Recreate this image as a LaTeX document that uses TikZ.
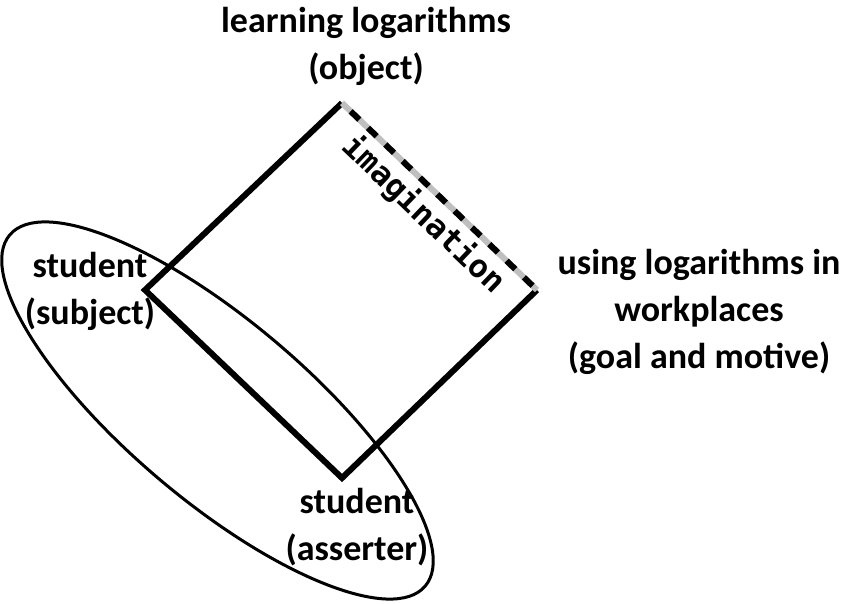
\documentclass[tikz,border=0pt]{standalone}
\usepackage{fontspec}
\setmainfont{Carlito}
\newfontfamily\monofont{DejaVu Sans Mono}
\begin{document}
\begin{tikzpicture}[x=1pt,y=1pt,
  lbl/.style={align=center,font=\bfseries\fontsize{36}{47}\selectfont,inner sep=0pt},
  edge/.style={line width=6pt,line join=miter,black},
  ring/.style={line width=3pt,black}]
\useasboundingbox (0,0) rectangle (842,604);
\coordinate (T) at (342,501);
\coordinate (R) at (537,314);
\coordinate (B) at (342,126);
\coordinate (L) at (145,314);
\coordinate (EC) at (217.5,193.5);
\draw[ring,rotate around={-40.2:(EC)}] (EC) ellipse [x radius=272, y radius=90];
\draw[edge] (R) -- (B) -- (L) -- (T);
\draw[line width=6pt,gray!50] (T) -- (R);
\draw[line width=6pt,black,dash pattern=on 12pt off 12pt,dash phase=12pt] (T) -- (R);
\node[lbl] (obj) at (366,558) {learning logarithms\\(object)};
\node[lbl] (subj) at (90,313) {student\\(subject)};
\node[lbl] (ass) at (357,77) {student\\(asserter)};
\node[lbl] (goal) at (699,292) {using logarithms in\\workplaces\\(goal and motive)};
\node[font=\monofont\bfseries\fontsize{32}{36}\selectfont,rotate=-43.8,inner sep=0pt] (imag) at (423.5,389) {imagination};
\end{tikzpicture}
\end{document}
